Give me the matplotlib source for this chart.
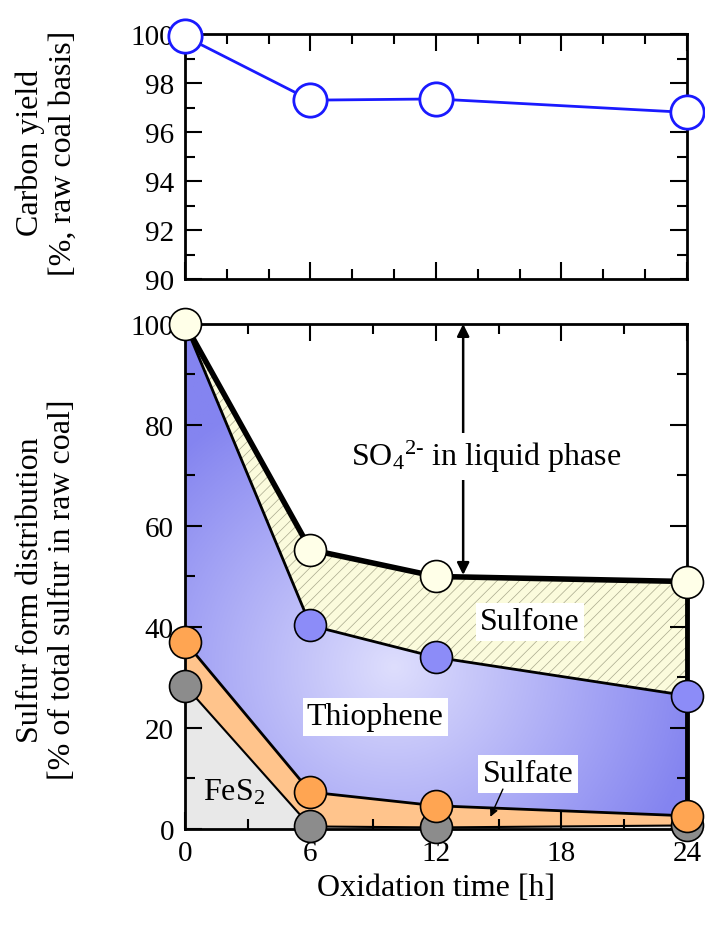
import numpy as np
import matplotlib
matplotlib.use("Agg")
import matplotlib.pyplot as plt
from matplotlib.patches import Polygon
from matplotlib.ticker import MultipleLocator

plt.rcParams['font.family'] = ['Liberation Serif', 'DejaVu Serif']
plt.rcParams['mathtext.fontset'] = 'custom'
plt.rcParams['mathtext.rm'] = 'Liberation Serif'
plt.rcParams['mathtext.it'] = 'Liberation Serif:italic'
plt.rcParams['hatch.linewidth'] = 0.5

# -----------------------------
# Data
# -----------------------------
time_h = [0, 6, 12, 24]
carbon_yield = [99.9, 97.3, 97.35, 96.8]

fes2 = [28.4, 0.5, 0.3, 0.7]          # pyrite
sulfate = [37.1, 7.3, 4.6, 2.6]       # fes2 + sulfate
thiophene = [100, 40.3, 34.0, 26.4]   # + thiophene
sulfone = [100, 55.3, 50.0, 49.0]     # + sulfone (rest = SO4 in liquid)

t = np.array(time_h, dtype=float)
fes2 = np.array(fes2)
sulfate = np.array(sulfate)
thiophene = np.array(thiophene)
sulfone = np.array(sulfone)

fig = plt.figure(figsize=(7.05, 9.29), dpi=100)
ax1 = fig.add_axes([0.2624, 0.6986, 0.712, 0.2637])
ax2 = fig.add_axes([0.2624, 0.1066, 0.712, 0.5436])

# -----------------------------
# Top panel : carbon yield
# -----------------------------
ax1.plot(t, carbon_yield, color='#1a1aff', lw=2, marker='o', ms=24,
         mfc='white', mec='#1a1aff', mew=2, clip_on=False, zorder=5)
ax1.set_xlim(0, 24)
ax1.set_ylim(90, 100)
ax1.xaxis.set_major_locator(MultipleLocator(6))
ax1.xaxis.set_minor_locator(MultipleLocator(2))
ax1.yaxis.set_major_locator(MultipleLocator(2))
ax1.yaxis.set_minor_locator(MultipleLocator(1))
ax1.set_xticklabels([])

# -----------------------------
# Bottom panel : sulfur forms
# -----------------------------
# FeS2 area
ax2.fill_between(t, 0, fes2, color='#e8e8e8', lw=0, zorder=1)
# sulfate band
ax2.fill_between(t, fes2, sulfate, color='#ffc48c', lw=0, zorder=1)
# sulfone (hatched)
ax2.fill_between(t, thiophene, sulfone, facecolor='#fbfbdc', edgecolor='#a8a88c',
                 hatch='///', lw=0, zorder=1)

# thiophene area with radial gradient
poly_xy = np.column_stack([np.r_[t, t[::-1]], np.r_[thiophene, sulfate[::-1]]])
poly = Polygon(poly_xy, closed=True, facecolor='none', edgecolor='none')
ax2.add_patch(poly)
gx, gy = np.meshgrid(np.linspace(0, 24, 300), np.linspace(0, 100, 400))
d = np.sqrt(((gx - 10) / 24) ** 2 + ((gy - 32) / 100 * 1.05) ** 2)
f = np.clip(d / 0.62, 0, 1)
c_in = np.array([222, 222, 253]) / 255
c_out = np.array([132, 132, 240]) / 255
img = c_in[None, None, :] * (1 - f[..., None]) + c_out[None, None, :] * f[..., None]
im = ax2.imshow(img, extent=[0, 24, 0, 100], origin='lower', aspect='auto', zorder=1)
im.set_clip_path(poly)

# boundary lines
ax2.plot(t, fes2, color='black', lw=1.5, zorder=2)
ax2.plot(t, sulfate, color='black', lw=2, zorder=2)
ax2.plot(t, thiophene, color='black', lw=2, zorder=2)
ax2.plot(t, sulfone, color='black', lw=4, zorder=2)
ax2.plot([t[-1], t[-1]], [0, sulfone[-1]], color='black', lw=3.5, zorder=2,
         clip_on=False)

# markers
mk = dict(marker='o', ms=23, mec='black', mew=1.2, ls='none', clip_on=False, zorder=5)
ax2.plot(t, fes2, mfc='#8c8c8c', **mk)
ax2.plot(t, sulfate, mfc='#ffa552', **mk)
ax2.plot(t[1:], thiophene[1:], mfc='#8c8cf8', **mk)
ax2.plot(t, sulfone, mfc='#ffffe8', **mk)

ax2.set_xlim(0, 24)
ax2.set_ylim(0, 100)
ax2.xaxis.set_major_locator(MultipleLocator(6))
ax2.xaxis.set_minor_locator(MultipleLocator(3))
ax2.yaxis.set_major_locator(MultipleLocator(20))
ax2.yaxis.set_minor_locator(MultipleLocator(10))

# annotations
ax2.annotate('', xy=(13.3, 100), xytext=(13.3, 50.3),
             arrowprops=dict(arrowstyle='<|-|>', color='black', lw=1.8,
                             mutation_scale=18, shrinkA=0, shrinkB=0), zorder=3)
ax2.text(14.4, 73.8, r'SO$_\mathrm{4}$$^\mathrm{2\text{-}}$ in liquid phase',
         fontsize=23, ha='center', va='center', zorder=4,
         bbox=dict(facecolor='white', edgecolor='none', pad=4))
box = dict(facecolor='white', edgecolor='none', pad=3)
ax2.text(16.5, 41, 'Sulfone', fontsize=23, ha='center', va='center', bbox=box, zorder=4)
ax2.text(9.1, 22.2, 'Thiophene', fontsize=23, ha='center', va='center', bbox=box, zorder=4)
ax2.text(16.4, 10.9, 'Sulfate', fontsize=23, ha='center', va='center', bbox=box, zorder=4)
ax2.annotate('', xy=(14.6, 2.4), xytext=(15.2, 7.9),
             arrowprops=dict(arrowstyle='-|>', color='black', lw=1,
                             mutation_scale=12, shrinkA=0, shrinkB=0), zorder=4)
ax2.text(2.35, 7.3, r'FeS$_\mathrm{2}$', fontsize=23, ha='center', va='center', zorder=4)

# -----------------------------
# Common styling
# -----------------------------
for ax in (ax1, ax2):
    for s in ax.spines.values():
        s.set_linewidth(2)
    ax.tick_params(which='both', direction='in', top=True, right=True,
                   labelsize=21, width=1.5, pad=8)
    ax.tick_params(which='major', length=12)
    ax.tick_params(which='minor', length=7)

ax2.set_xlabel('Oxidation time [h]', fontsize=23, labelpad=5)
fig.text(0.066, 0.835, 'Carbon yield\n[%, raw coal basis]', rotation=90,
         fontsize=23, ha='center', va='center', linespacing=1.15)
fig.text(0.066, 0.365, 'Sulfur form distribution\n[% of total sulfur in raw coal]',
         rotation=90, fontsize=23, ha='center', va='center', linespacing=1.15)

fig.savefig('out.png', dpi=100)
